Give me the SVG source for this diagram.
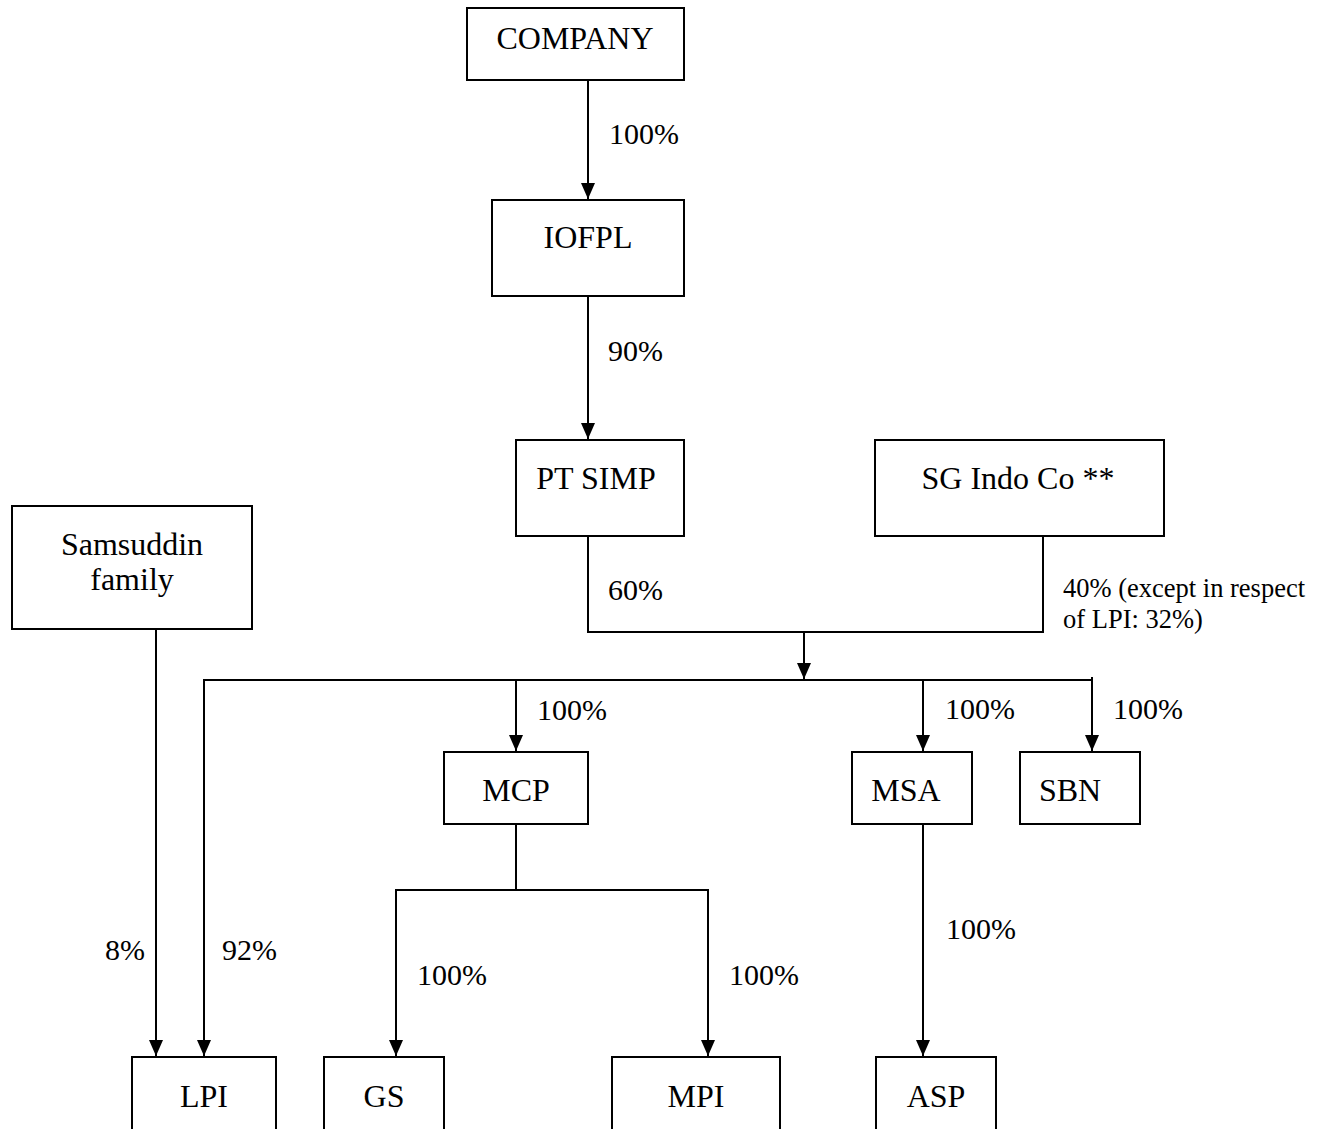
<svg xmlns="http://www.w3.org/2000/svg" width="1325" height="1129" viewBox="0 0 1325 1129">
<style>
.box{fill:#fff;stroke:#000;stroke-width:2}
.ln{fill:none;stroke:#000;stroke-width:2}
.nt{font-family:"Liberation Serif","Times New Roman",serif;font-size:32px;fill:#000;text-anchor:middle}
.lb{font-family:"Liberation Serif","Times New Roman",serif;font-size:30px;fill:#000}
.sm{font-family:"Liberation Serif","Times New Roman",serif;font-size:26.5px;fill:#000}
</style>
<defs>
<marker id="ah" markerUnits="userSpaceOnUse" markerWidth="16" markerHeight="16" refX="16" refY="8" orient="auto">
<path d="M0,1 L16,8 L0,15 Z" fill="#000"/>
</marker>
</defs>
<rect width="1325" height="1129" fill="#fff"/>
<g id="connectors">
<line class="ln" x1="588" y1="80" x2="588" y2="199" marker-end="url(#ah)"/>
<line class="ln" x1="588" y1="296" x2="588" y2="439" marker-end="url(#ah)"/>
<polyline class="ln" points="588,536 588,632 1043,632 1043,536"/>
<line class="ln" x1="804" y1="632" x2="804" y2="679" marker-end="url(#ah)"/>
<polyline class="ln" points="204,1056 204,680 1092,680"/>
<line class="ln" x1="204" y1="700" x2="204" y2="1056" marker-end="url(#ah)"/>
<line class="ln" x1="156" y1="629" x2="156" y2="1056" marker-end="url(#ah)"/>
<line class="ln" x1="516" y1="680" x2="516" y2="751" marker-end="url(#ah)"/>
<line class="ln" x1="923" y1="680" x2="923" y2="751" marker-end="url(#ah)"/>
<line class="ln" x1="1092" y1="677" x2="1092" y2="751" marker-end="url(#ah)"/>
<polyline class="ln" points="516,824 516,890 396,890 396,1020"/>
<line class="ln" x1="396" y1="1000" x2="396" y2="1056" marker-end="url(#ah)"/>
<polyline class="ln" points="516,890 708,890 708,1020"/>
<line class="ln" x1="708" y1="1000" x2="708" y2="1056" marker-end="url(#ah)"/>
<line class="ln" x1="923" y1="824" x2="923" y2="1056" marker-end="url(#ah)"/>
<text class="lb" x="609" y="144">100%</text>
<text class="lb" x="608" y="361">90%</text>
<text class="lb" x="608" y="600">60%</text>
<text class="sm" x="1063" y="597">40% (except in respect</text>
<text class="sm" x="1063" y="628">of LPI: 32%)</text>
<text class="lb" x="537" y="720">100%</text>
<text class="lb" x="945" y="719">100%</text>
<text class="lb" x="1113" y="719">100%</text>
<text class="lb" x="105" y="960">8%</text>
<text class="lb" x="222" y="960">92%</text>
<text class="lb" x="417" y="985">100%</text>
<text class="lb" x="729" y="985">100%</text>
<text class="lb" x="946" y="939">100%</text>
</g>
<g id="company"><rect class="box" x="467" y="8" width="217" height="72"/><text class="nt" x="575" y="49">COMPANY</text></g>
<g id="iofpl"><rect class="box" x="492" y="200" width="192" height="96"/><text class="nt" x="588" y="248">IOFPL</text></g>
<g id="ptsimp"><rect class="box" x="516" y="440" width="168" height="96"/><text class="nt" x="596" y="489">PT SIMP</text></g>
<g id="sgindo"><rect class="box" x="875" y="440" width="289" height="96"/><text class="nt" x="1018" y="489">SG Indo Co **</text></g>
<g id="samsuddin"><rect class="box" x="12" y="506" width="240" height="123"/><text class="nt" x="132" y="555">Samsuddin</text><text class="nt" x="132" y="590">family</text></g>
<g id="mcp"><rect class="box" x="444" y="752" width="144" height="72"/><text class="nt" x="516" y="801">MCP</text></g>
<g id="msa"><rect class="box" x="852" y="752" width="120" height="72"/><text class="nt" x="906" y="801">MSA</text></g>
<g id="sbn"><rect class="box" x="1020" y="752" width="120" height="72"/><text class="nt" x="1070" y="801">SBN</text></g>
<g id="lpi"><rect class="box" x="132" y="1057" width="144" height="90"/><text class="nt" x="204" y="1107">LPI</text></g>
<g id="gs"><rect class="box" x="324" y="1057" width="120" height="90"/><text class="nt" x="384" y="1107">GS</text></g>
<g id="mpi"><rect class="box" x="612" y="1057" width="168" height="90"/><text class="nt" x="696" y="1107">MPI</text></g>
<g id="asp"><rect class="box" x="876" y="1057" width="120" height="90"/><text class="nt" x="936" y="1107">ASP</text></g>
</svg>
